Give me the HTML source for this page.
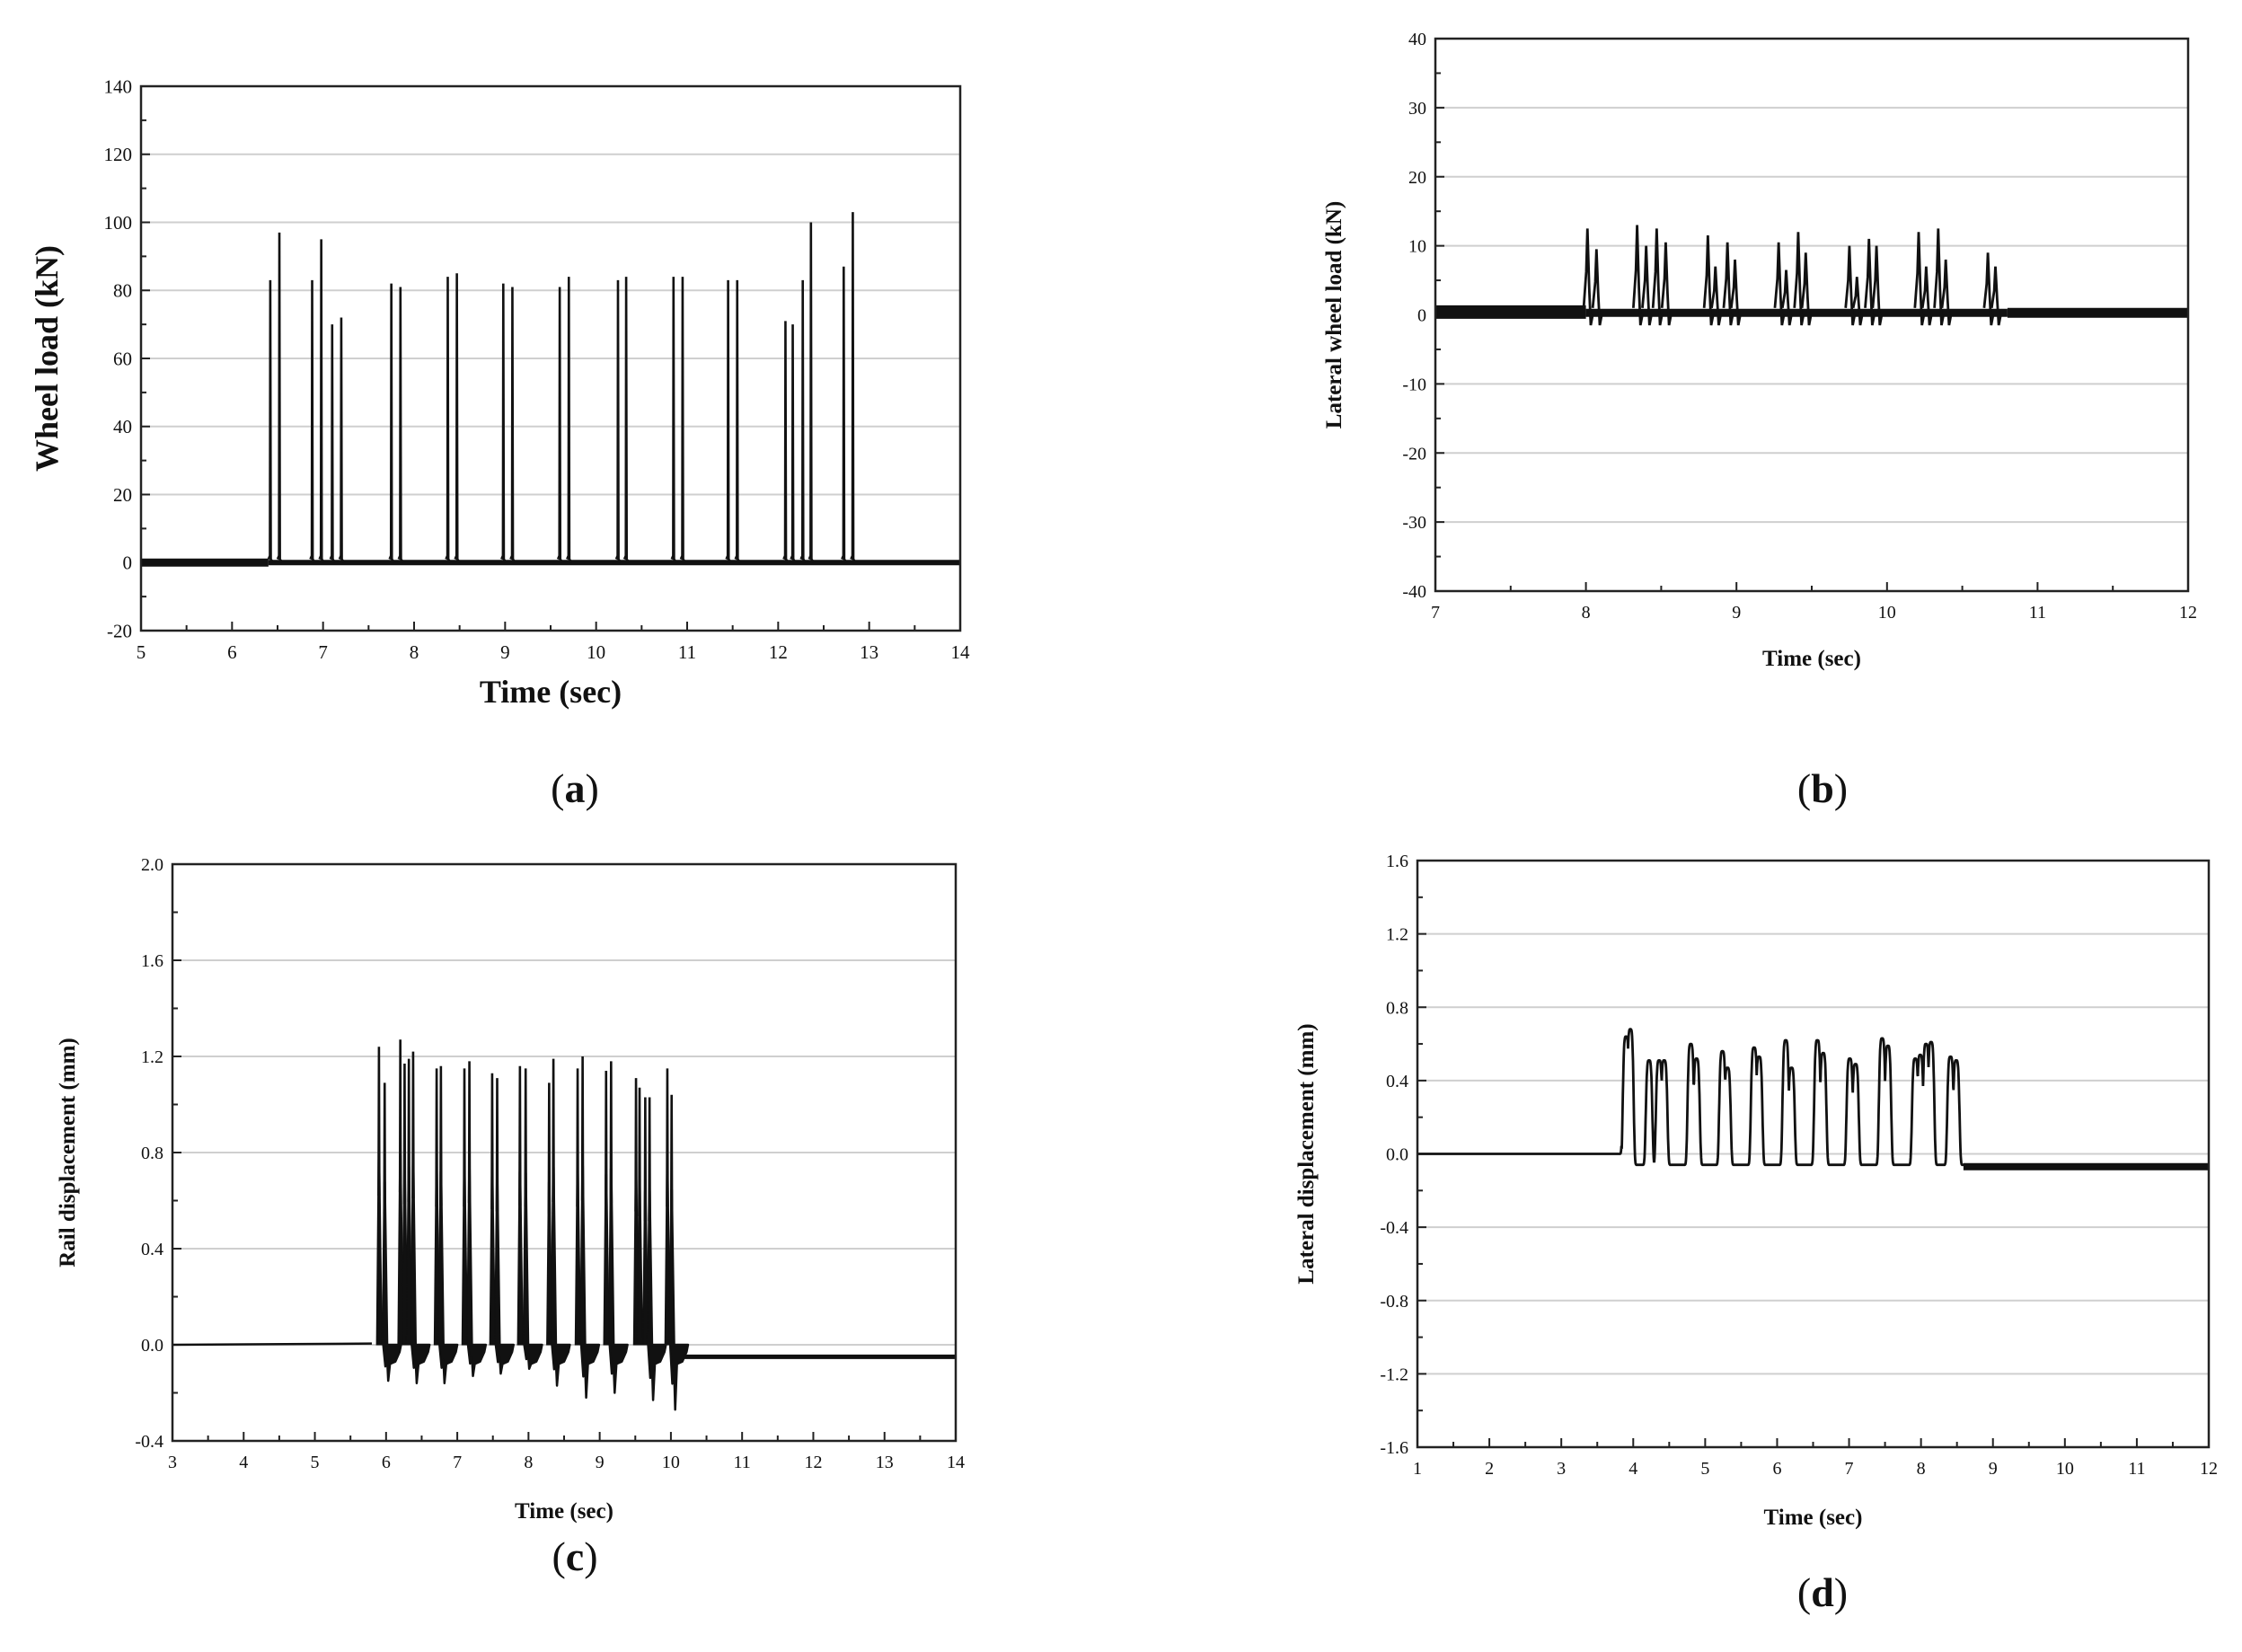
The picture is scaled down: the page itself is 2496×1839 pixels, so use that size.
<!DOCTYPE html>
<html><head><meta charset="utf-8"><style>
html,body{margin:0;padding:0;background:#fff;}
svg{display:block;}
text{font-family:"Liberation Serif","DejaVu Serif",serif;fill:#111;}
</style></head><body>
<svg id="fig" width="2496" height="1839" viewBox="0 0 2496 1839" xmlns="http://www.w3.org/2000/svg">
<rect width="2496" height="1839" fill="#fff"/>
<text x="640" y="893" font-size="46" text-anchor="middle">(<tspan font-weight="bold">a</tspan>)</text>
<text x="2029" y="893" font-size="46" text-anchor="middle">(<tspan font-weight="bold">b</tspan>)</text>
<text x="640" y="1748" font-size="46" text-anchor="middle">(<tspan font-weight="bold">c</tspan>)</text>
<text x="2029" y="1788" font-size="46" text-anchor="middle">(<tspan font-weight="bold">d</tspan>)</text>
</svg>
<script>
// ---- Panel (a) data: wheel load spikes ----
const aSpikeTimes = [6.42,6.52,6.88,6.98,7.10,7.20,7.75,7.85,8.37,8.47,8.98,9.08,9.60,9.70,10.24,10.33,10.85,10.95,11.45,11.55,12.08,12.16,12.27,12.36,12.72,12.82];
const aSpikeValues = [83,97,83,95,70,72,82,81,84,85,82,81,81,84,83,84,84,84,83,83,71,70,83,100,87,103];
const aXTicks = [5,6,7,8,9,10,11,12,13,14];
const aYTicks = [-20,0,20,40,60,80,100,120,140];
// ---- Panel (b) data: lateral wheel load ----
const bPeakTimes = [8.01,8.07,8.34,8.40,8.47,8.53,8.81,8.86,8.94,8.99,9.28,9.33,9.41,9.46,9.75,9.80,9.88,9.93,10.21,10.26,10.34,10.39,10.67,10.72];
const bPeakValues = [12.5,9.5,13,10,12.5,10.5,11.5,7,10.5,8,10.5,6.5,12,9,10,5.5,11,10,12,7,12.5,8,9,7];
const bXTicks = [7,8,9,10,11,12];
const bYTicks = [-40,-30,-20,-10,0,10,20,30,40];
// ---- Panel (c) data: rail displacement ----
const cPeakTimes = [5.90,5.98,6.20,6.26,6.32,6.38,6.71,6.77,7.10,7.17,7.49,7.56,7.88,7.96,8.29,8.35,8.69,8.76,9.09,9.16,9.51,9.56,9.64,9.70,9.95,10.01];
const cPeakValues = [1.24,1.09,1.27,1.17,1.19,1.22,1.15,1.16,1.15,1.18,1.13,1.11,1.16,1.15,1.09,1.19,1.15,1.20,1.14,1.18,1.11,1.07,1.03,1.03,1.15,1.04];
const cDipTimes = [6.03,6.43,6.82,7.22,7.61,8.01,8.40,8.81,9.21,9.75,10.06];
const cDipValues = [-0.15,-0.16,-0.16,-0.13,-0.12,-0.10,-0.17,-0.22,-0.20,-0.23,-0.27];
const cXTicks = [3,4,5,6,7,8,9,10,11,12,13,14];
const cYTicks = [-0.4,0.0,0.4,0.8,1.2,1.6,2.0];
// ---- Panel (d) data: lateral displacement ----
const dPeakTimes = [3.90,3.96,4.22,4.36,4.43,4.80,4.88,5.24,5.31,5.68,5.75,6.12,6.20,6.56,6.64,7.01,7.09,7.46,7.54,7.92,7.99,8.07,8.14,8.41,8.49];
const dPeakValues = [0.64,0.68,0.51,0.51,0.51,0.60,0.52,0.56,0.47,0.58,0.53,0.62,0.47,0.62,0.55,0.52,0.49,0.63,0.59,0.52,0.54,0.60,0.61,0.53,0.51];
const dXTicks = [1,2,3,4,5,6,7,8,9,10,11,12];
const dYTicks = [-1.6,-1.2,-0.8,-0.4,0.0,0.4,0.8,1.2,1.6];

const NS = "http://www.w3.org/2000/svg";
const svg = document.getElementById('fig');
function el(tag, attrs, parent){
  const e = document.createElementNS(NS, tag);
  for (const k in attrs) e.setAttribute(k, attrs[k]);
  (parent||svg).appendChild(e);
  return e;
}

function makePanel(id, L, R, T, B, xt, yt, dec, tickFs, titleFs, xTitle, yTitle, xTitleY, yTitleX){
  const g = el('g', {});
  
  
  const xmin = xt[0], xmax = xt[xt.length-1], ymin = yt[0], ymax = yt[yt.length-1];
  const sx = v => L + (v - xmin) / (xmax - xmin) * (R - L);
  const sy = v => B - (v - ymin) / (ymax - ymin) * (B - T);
  yt.forEach((v, i) => {
    if (i === 0 || i === yt.length-1) return;
    const gl = el('line', {x1:L, x2:R, y1:sy(v), y2:sy(v), stroke:'#cfcfcf', 'stroke-width':2}, g);
    
    
  });
  yt.forEach((v, i) => {
    el('line', {x1:L, x2:L+10, y1:sy(v), y2:sy(v), stroke:'#222', 'stroke-width':2}, g);
    if (i < yt.length-1) {
      const m = (v + yt[i+1]) / 2;
      el('line', {x1:L, x2:L+6, y1:sy(m), y2:sy(m), stroke:'#222', 'stroke-width':2}, g);
    }
    const t = el('text', {x:L-10, y:sy(v)+tickFs*0.35, 'font-size':tickFs, 'text-anchor':'end'}, g);
    t.textContent = dec ? v.toFixed(dec) : String(v);
    
    
  });
  xt.forEach((v, i) => {
    el('line', {x1:sx(v), x2:sx(v), y1:B, y2:B-10, stroke:'#222', 'stroke-width':2}, g);
    if (i < xt.length-1) {
      const m = (v + xt[i+1]) / 2;
      el('line', {x1:sx(m), x2:sx(m), y1:B, y2:B-6, stroke:'#222', 'stroke-width':2}, g);
    }
    const t = el('text', {x:sx(v), y:B+tickFs+10, 'font-size':tickFs, 'text-anchor':'middle'}, g);
    t.textContent = String(v);
    
    
  });
  const xtl = el('text', {x:(L+R)/2, y:xTitleY, 'font-size':titleFs, 'font-weight':'bold', 'text-anchor':'middle'}, g);
  xtl.textContent = xTitle;
  
  
  const ytl = el('text', {x:yTitleX, y:(T+B)/2, 'font-size':titleFs, 'font-weight':'bold', 'text-anchor':'middle', transform:'rotate(-90 '+yTitleX+' '+((T+B)/2)+')'}, g);
  ytl.textContent = yTitle;
  
  
  const series = el('g', {}, g);
  
  
  const frame = el('rect', {x:L, y:T, width:R-L, height:B-T, fill:'none', stroke:'#222', 'stroke-width':2.5}, g);
  
  
  g.appendChild(frame);
  return {sx, sy, series};
}

// ===== Panel a =====
(function(){
  const p = makePanel('a', 157, 1069, 96, 702, aXTicks, aYTicks, 0, 21, 36, 'Time (sec)', 'Wheel load (kN)', 782, 64);
  const {sx, sy, series} = p;
  const b1 = el('line', {x1:sx(5), x2:sx(6.4), y1:sy(0), y2:sy(0), stroke:'#111', 'stroke-width':9}, series);
   
  const b2 = el('line', {x1:sx(6.4), x2:sx(14), y1:sy(0), y2:sy(0), stroke:'#111', 'stroke-width':6}, series);
   
  aSpikeTimes.forEach((t, i) => {
    const h = aSpikeValues[i];
    const s = el('path', {d:'M'+sx(t-0.02)+','+sy(1)+' L'+sx(t-0.004)+','+sy(2)+' L'+sx(t)+','+sy(h)+' L'+sx(t+0.006)+','+sy(1)+' L'+sx(t+0.03)+','+sy(0), fill:'none', stroke:'#111', 'stroke-width':2.6}, series);
    
    
  });
})();

// ===== Panel b =====
(function(){
  const p = makePanel('b', 1598, 2436, 43, 658, bXTicks, bYTicks, 0, 20, 25, 'Time (sec)', 'Lateral wheel load (kN)', 741, 1493);
  const {sx, sy, series} = p;
  const b1 = el('line', {x1:sx(7), x2:sx(8), y1:sy(0.4), y2:sy(0.4), stroke:'#111', 'stroke-width':15}, series);
   
  const b2 = el('line', {x1:sx(8), x2:sx(10.8), y1:sy(0.3), y2:sy(0.3), stroke:'#111', 'stroke-width':9}, series);
   
  const b3 = el('line', {x1:sx(10.8), x2:sx(12), y1:sy(0.3), y2:sy(0.3), stroke:'#111', 'stroke-width':11}, series);
   
  bPeakTimes.forEach((t, i) => {
    const h = bPeakValues[i];
    const s = el('path', {d:'M'+sx(t-0.025)+','+sy(1)+' L'+sx(t-0.008)+','+sy(h*0.5)+' L'+sx(t)+','+sy(h)+' L'+sx(t+0.012)+','+sy(h*0.3)+' L'+sx(t+0.022)+','+sy(-1.5)+' L'+sx(t+0.035)+','+sy(0), fill:'none', stroke:'#111', 'stroke-width':2.8}, series);
    
    
  });
})();

// ===== Panel c =====
(function(){
  const p = makePanel('c', 192, 1064, 962, 1604, cXTicks, cYTicks, 1, 20, 25, 'Time (sec)', 'Rail displacement (mm)', 1690, 83);
  const {sx, sy, series} = p;
  const l1 = el('path', {d:'M'+sx(3)+','+sy(0)+' L'+sx(5.8)+','+sy(0.005), fill:'none', stroke:'#111', 'stroke-width':2.5}, series);
   
  const l2 = el('line', {x1:sx(10.1), x2:sx(14), y1:sy(-0.05), y2:sy(-0.05), stroke:'#111', 'stroke-width':5}, series);
   
  cDipTimes.forEach((t, i) => {
    const v = cDipValues[i];
    const s = el('path', {d:'M'+sx(t-0.07)+','+sy(0)+' L'+sx(t-0.04)+','+sy(v*0.6)+' L'+sx(t-0.015)+','+sy(v*0.4)+' L'+sx(t)+','+sy(v)+' L'+sx(t+0.025)+','+sy(-0.08)+' L'+sx(t+0.1)+','+sy(-0.07)+' L'+sx(t+0.16)+','+sy(-0.03)+' L'+sx(t+0.18)+','+sy(0)+' Z', fill:'#111', stroke:'#111', 'stroke-width':2.5, 'stroke-linejoin':'round'}, series);
    
    
  });
  cPeakTimes.forEach((t, i) => {
    const h = cPeakValues[i];
    const body = el('path', {d:'M'+sx(t-0.035)+','+sy(0)+' L'+sx(t-0.012)+','+sy(h*0.62)+' L'+sx(t+0.012)+','+sy(h*0.62)+' L'+sx(t+0.045)+','+sy(0)+' Z', fill:'#111', stroke:'#111', 'stroke-width':1}, series);
    
    
    const s = el('path', {d:'M'+sx(t-0.006)+','+sy(h*0.5)+' L'+sx(t)+','+sy(h)+' L'+sx(t+0.006)+','+sy(h*0.5), fill:'none', stroke:'#111', 'stroke-width':2.6}, series);
    
    
  });
})();

// ===== Panel d =====
(function(){
  const p = makePanel('d', 1578, 2459, 958, 1611, dXTicks, dYTicks, 1, 20, 25, 'Time (sec)', 'Lateral displacement (mm)', 1697, 1462);
  const {sx, sy, series} = p;
  const tStart = dPeakTimes[0] - 0.06, tEnd = dPeakTimes[dPeakTimes.length-1] + 0.1;
  let d = '';
  for (let t = 1; t <= 12.0001; t += 0.004) {
    let base = t < tStart ? 0 : -0.06;
    let v = base;
    dPeakTimes.forEach((tp, i) => {
      const w = 0.05;
      const b = (dPeakValues[i] - base) * Math.exp(-Math.pow((t - tp) / w, 4)) + base;
      if (b > v) v = b;
    });
    d += (d ? ' L' : 'M') + sx(t).toFixed(1) + ',' + sy(v).toFixed(1);
  }
  const s = el('path', {d:d, fill:'none', stroke:'#111', 'stroke-width':2.8}, series);
  
  
  const band = el('line', {x1:sx(tEnd), x2:sx(12), y1:sy(-0.07), y2:sy(-0.07), stroke:'#111', 'stroke-width':8}, series);
  
  
})();
</script>
</body></html>
